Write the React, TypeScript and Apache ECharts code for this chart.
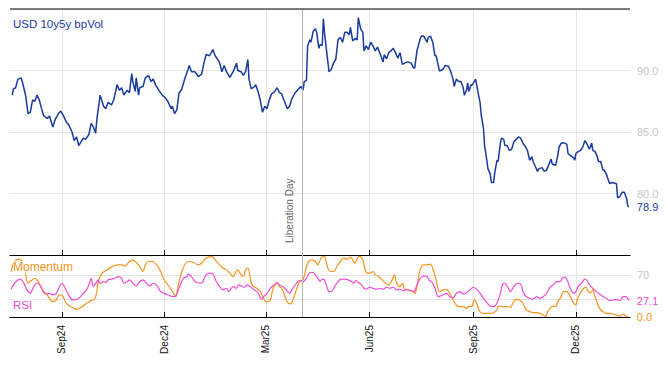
import React, { useEffect, useRef } from 'react';
import * as echarts from 'echarts';

const START_DATE = '2024-07-17';
const END_DATE = '2026-01-18';
const EVENT_DATE = '2025-04-02';
const EVENT_LABEL = 'Liberation Day';
const TITLE = 'USD 10y5y bpVol';
const MOM_NAME = 'Momentum';
const RSI_NAME = 'RSI';

// day index from START_DATE, value
const volDays = [2,3,5,7,10,12,14,16,18,20,22,24,26,28,30,33,35,38,40,43,45,47,50,52,55,57,59,61,63,65,67,70,72,74,76,77,80,83,85,87,90,92,95,97,99,101,104,106,108,109,111,112,114,115,118,120,123,125,127,129,132,135,138,140,143,144,146,148,150,152,154,156,158,159,161,164,167,170,172,174,177,180,182,185,186,188,190,192,195,198,201,202,205,207,209,211,212,214,217,218,220,222,224,226,228,230,232,234,237,239,241,243,246,248,250,253,256,258,260,261,263,264,266,267,269,271,272,274,275,277,278,279,281,283,285,287,289,291,293,295,297,299,301,302,304,306,308,309,311,313,314,316,318,320,322,324,326,328,331,332,334,336,338,340,342,344,346,348,350,353,356,358,359,361,364,365,367,370,371,373,375,377,378,381,384,386,389,391,393,394,396,398,400,402,403,405,406,407,409,410,413,414,415,417,418,420,421,423,424,426,427,429,430,432,433,435,436,438,439,441,443,445,447,449,451,453,455,458,459,461,463,464,466,468,469,472,474,476,478,480,481,484,486,487,489,492,494,495,497,500,501,502,504,506,508,510,512,514,516,517,519,521,522,524,526,527,529,530,532,534,536,538,539,541,543,545,547,548,549];
const volValues = [88.0,88.5,88.6,89.3,89.4,88.7,87.9,86.5,86.6,87.6,87.5,88.0,87.6,86.9,86.3,86.1,86.3,85.4,86.0,86.5,86.7,86.4,85.8,85.6,85.0,84.3,84.6,83.9,84.2,84.5,84.4,84.8,85.7,85.4,84.9,86.0,88.0,87.1,86.9,87.4,87.2,87.6,88.85,88.4,88.6,88.0,88.4,88.2,89.75,89.1,88.3,89.4,88.0,88.6,88.7,89.4,89.6,89.1,89.3,88.85,88.4,88.0,87.75,87.5,86.9,87.1,86.5,86.8,88.2,88.4,89.0,89.6,90.1,90.4,89.9,89.9,89.5,89.7,90.6,91.3,91.2,91.7,91.2,90.8,90.6,89.9,90.4,89.9,89.45,89.9,90.6,90.0,89.9,89.6,89.9,90.9,89.3,88.5,88.7,88.85,88.3,87.6,86.6,87.1,86.9,87.6,88.1,88.2,88.6,88.2,88.1,87.6,86.9,87.1,87.7,88.2,88.5,88.7,88.4,89.1,89.2,92.0,92.5,92.3,93.2,93.4,93.1,91.8,92.1,92.05,94.2,93.1,91.45,89.9,90.1,90.6,90.9,92.5,92.7,92.3,93.1,93.1,92.9,93.5,92.4,92.6,92.5,94.3,93.4,93.1,91.6,92.0,91.7,92.3,92.0,91.6,91.9,91.45,90.7,91.3,90.95,91.45,91.6,91.8,91.45,91.0,91.45,90.5,90.6,90.7,90.6,90.2,90.2,91.6,92.6,92.8,92.8,92.3,92.7,92.8,92.3,91.2,91.2,89.95,90.1,90.4,90.35,89.9,89.3,88.7,89.3,89.1,89.1,88.6,88.0,88.4,89.0,88.3,88.85,88.8,89.3,88.85,88.3,87.4,86.4,85.3,83.9,82.7,82.0,81.6,80.9,80.9,81.7,82.7,82.6,84.1,84.5,84.4,83.9,83.9,83.5,83.6,84.2,84.4,84.6,84.5,84.1,83.7,83.5,82.7,83.0,82.6,82.2,81.8,82.0,82.1,81.8,81.9,82.35,82.8,82.4,82.3,83.1,83.75,84.1,84.1,84.0,83.25,83.1,82.9,82.7,83.25,83.4,83.5,83.75,84.3,84.0,83.6,84.1,83.5,83.4,83.0,82.6,82.6,81.9,81.9,81.6,81.3,80.8,80.9,80.85,80.8,79.65,79.75,80.1,80.1,79.6,79.0,78.9];

const momDays = [1,4,9,13,16,19,22,25,27,30,32,35,38,41,44,47,50,55,59,64,68,72,75,77,78,81,86,90,95,99,102,106,109,112,115,118,120,123,127,130,133,136,139,142,145,147,149,152,155,158,163,167,170,174,179,182,185,189,192,195,198,200,202,205,207,209,211,214,216,219,222,225,227,229,231,233,235,237,239,241,243,245,247,249,251,254,257,260,263,265,268,271,273,276,279,280,282,284,287,290,293,296,299,302,304,306,308,310,313,315,317,319,322,324,327,330,333,336,339,341,343,346,348,350,353,356,359,361,363,365,367,370,373,375,378,381,384,387,390,393,396,399,402,405,407,410,411,412,414,416,418,421,426,429,432,433,435,438,441,444,446,449,452,455,458,461,464,467,470,473,475,477,479,482,484,486,489,491,494,497,500,502,503,506,509,511,513,515,517,519,521,523,526,529,532,535,538,541,544,546,549];
const momValues = [75.6,92.2,96.1,78.3,56.1,60.6,64.4,58.9,51.7,42.2,39.4,31.1,25.6,28.3,36.7,33.9,22.8,16.1,12.8,17.2,22.8,27.2,29.4,42.2,56.1,71.7,78.3,82.8,86.7,86.7,85,92.2,95,90.6,83.9,75.6,86.7,92.2,92.2,86.7,78.3,64.4,56.1,47.8,39.4,33.9,50.6,72.8,86.7,92.2,90.6,86.7,89.4,97.8,100.6,95,88.3,81.1,78.3,72.8,67.2,72.8,78.3,70,67.2,78.3,81.1,56.1,50.6,47.8,42.2,31.1,25.6,25.6,28.3,45,53.3,56.1,50.6,47.8,39.4,28.3,22.8,21.7,28.3,45,58.9,61.7,83.9,92.2,95,92.2,86.7,97.8,100.6,95,81.1,75.6,75.6,83.9,92.2,97.8,96.1,99.4,95,89.4,97.8,100.6,95,78.3,72.8,72.8,75.6,70,67.2,61.7,56.1,53.3,61.7,70,56.1,50.6,56.1,46.1,45,43.9,39.4,50.6,72.8,83.9,86.7,86.7,87.8,81.1,61.7,42,45,46.1,39.4,28.3,20,17.2,17.2,14.4,17.2,18.3,25.6,28.3,22.8,11.7,7.2,6.1,6.1,7.2,11.7,17.2,18.3,17.2,17.2,16.1,22.8,29.4,28.3,22.8,11.7,8.9,7.2,7.2,6.1,3.3,0.6,8.9,14.4,18.3,17.2,25.6,33.9,42.2,42.2,33.9,22.8,20,28.3,39.4,47.8,49.4,42.2,40.6,45,33.9,22.8,14.4,8.9,6.1,6.1,5,3.3,1.7,5,1.7,0];

const rsiDays = [1,4,9,12,15,18,21,24,27,30,33,35,38,41,44,46,49,52,56,61,65,68,71,72,74,77,78,80,83,85,87,90,93,96,99,101,104,106,109,112,115,118,121,124,127,130,133,136,139,142,145,147,151,154,157,158,161,164,169,171,174,177,180,183,186,189,192,194,198,201,203,206,208,210,213,216,219,221,223,225,228,231,234,237,239,243,245,248,250,253,257,260,263,266,269,271,274,275,277,279,281,283,285,288,291,294,297,300,303,305,307,309,312,314,316,319,322,325,328,331,334,337,340,343,346,349,352,355,358,361,364,367,370,372,374,377,380,384,387,390,393,396,399,402,405,408,411,414,417,420,423,426,429,432,435,437,439,441,442,444,446,449,452,454,455,458,461,464,467,470,473,476,479,482,485,488,490,492,494,497,500,502,504,507,510,512,514,517,520,523,526,529,532,535,538,541,544,546,549];
const rsiValues = [46.1,56.1,62.8,57.2,45,39.4,50.6,56.1,51.7,40.6,38.3,39.4,36.7,39.4,50.6,56.1,47.8,36.7,28.3,31.1,39.4,45,58.9,64.4,50.6,58.9,61.7,56.1,58.9,57.2,61.7,62.8,64.4,67.2,64.4,56.1,58.9,61.7,56.1,51.7,58.9,61.7,56.1,51.7,56.1,53.3,43.9,39.4,37.8,35,33.9,35,53.3,64.4,67.2,71.7,67.2,58.9,56.1,58.9,70,72.8,71.7,58.9,50.6,45,47.8,42.2,50.6,47.8,53.3,50.6,49.4,53.3,50.6,46.1,42.2,36.7,29.4,33.9,39.4,47.8,53.3,57.2,53.3,49.4,45,39.4,45,53.3,60.6,58.9,64.4,73.9,73.9,70,61.7,58.9,62.8,61.7,50.6,42.2,42.2,50.6,58.9,62.8,62.8,61.7,58.9,56.1,60.6,57.2,53.3,47.8,46.1,49.4,47.8,46.1,47.8,46.1,49.4,47.8,49.4,45,46.1,43.9,46.1,43.9,42.2,53.3,64.4,68.3,67.2,60.6,58.9,47.8,33.9,36.7,39.4,33.9,31.1,39.4,42.2,38.3,40.6,45,49.4,46.1,39.4,31.1,23.9,18.3,17.2,22.8,39.4,54.4,56.1,51.7,47.8,42.2,47.8,55,56.1,50.6,42.2,33.9,31.1,29.4,33.9,31.1,33.9,39.4,49.4,53.3,58.9,58.9,64.4,66.1,62.8,47.8,39.4,42.2,50.6,56.1,62.8,60.6,53.3,47.8,42.2,38.3,33.9,31.1,27.2,28.3,29.4,27.2,33.9,33.9,27.1];

const volAxis = { min: 75, max: 95, step: 5 };
const oscAxis = { min: 0, max: 103, step: 10 };
const oscGridLevels = [30, 70];
const oscLabelLevels = [70];
const QUARTER_MONTHS = ['03', '06', '09', '12'];
const MONTHS = ['Jan','Feb','Mar','Apr','May','Jun','Jul','Aug','Sep','Oct','Nov','Dec'];

const W = 668;
const H = 366;
const G_LEFT = 10;
const G_RIGHT = 38;
const G_TOP = 9;
const G_TOP_H = 246;
const G_BOT_H = 62;

const COL_VOL = '#1a3a9e';
const COL_MOM = '#f7931e';
const COL_RSI = '#f24bd6';
const COL_GRID = '#e6e6e6';
const COL_AXISLBL = '#c8c8c8';
const FONT = '"Liberation Sans", Arial, sans-serif';

function buildDays(start: string, end: string): string[] {
  const out: string[] = [];
  const d = new Date(start + 'T00:00:00Z');
  const e = new Date(end + 'T00:00:00Z');
  while (d <= e) {
    out.push(d.toISOString().slice(0, 10));
    d.setUTCDate(d.getUTCDate() + 1);
  }
  return out;
}

const isQuarter = (_i: number, v: string) =>
  typeof v === 'string' && v.slice(8, 10) === '01' && QUARTER_MONTHS.includes(v.slice(5, 7));

const pair = (days: number[], vals: number[]) => days.map((d, i) => [d, vals[i]]);

export default function App() {
  const ref = useRef<HTMLDivElement>(null);
  useEffect(() => {
    if (!ref.current) return;
    const chart = echarts.init(ref.current, undefined, { renderer: 'svg' });
    const cats = buildDays(START_DATE, END_DATE);
    const oscTicks: number[] = [];
    for (let t = oscAxis.min; t <= oscAxis.max; t += oscAxis.step) oscTicks.push(t);
    const oscSplitColors = oscTicks.map((t) => (oscGridLevels.includes(t) ? COL_GRID : 'rgba(0,0,0,0)'));

    const baseX = {
      type: 'category' as const,
      data: cats,
      boundaryGap: false,
    };

    chart.setOption({
      animation: false,
      textStyle: { fontFamily: FONT },
      grid: [
        { left: G_LEFT, right: G_RIGHT, top: G_TOP, height: G_TOP_H, containLabel: false },
        { left: G_LEFT, right: G_RIGHT, top: G_TOP + G_TOP_H, height: G_BOT_H, containLabel: false },
      ],
      xAxis: [
        {
          ...baseX,
          gridIndex: 0,
          position: 'bottom',
          axisLine: { show: true, onZero: false, lineStyle: { color: '#000', width: 1.2 } },
          axisTick: { show: true, inside: true, length: 5, interval: isQuarter, lineStyle: { color: '#000' } },
          axisLabel: { show: false },
          splitLine: { show: true, interval: isQuarter, lineStyle: { color: COL_GRID, width: 1 } },
        },
        {
          ...baseX,
          gridIndex: 1,
          position: 'bottom',
          axisLine: { show: true, onZero: false, lineStyle: { color: '#000', width: 1.2 } },
          axisTick: { show: true, inside: true, length: 5, interval: isQuarter, lineStyle: { color: '#000' } },
          axisLabel: {
            show: true,
            interval: isQuarter,
            rotate: 90,
            margin: 8,
            color: '#111',
            fontSize: 10,
            fontFamily: FONT,
            formatter: (v: string) => MONTHS[parseInt(v.slice(5, 7), 10) - 1] + v.slice(2, 4),
          },
          splitLine: { show: true, interval: isQuarter, lineStyle: { color: COL_GRID, width: 1 } },
        },
      ],
      yAxis: [
        {
          type: 'value',
          gridIndex: 0,
          position: 'right',
          min: volAxis.min,
          max: volAxis.max,
          interval: volAxis.step,
          axisLine: { show: false },
          axisTick: { show: false },
          axisLabel: {
            color: COL_AXISLBL,
            fontSize: 11,
            margin: 7,
            showMinLabel: false,
            showMaxLabel: false,
            formatter: (v: number) => v.toFixed(1),
          },
          splitLine: { show: true, lineStyle: { color: COL_GRID, width: 1 } },
        },
        {
          type: 'value',
          gridIndex: 1,
          position: 'right',
          min: oscAxis.min,
          max: oscAxis.max,
          interval: oscAxis.step,
          axisLine: { show: false },
          axisTick: { show: false },
          axisLabel: {
            color: COL_AXISLBL,
            fontSize: 11,
            margin: 7,
            formatter: (v: number) => (oscLabelLevels.includes(v) ? String(v) : ''),
          },
          splitLine: { show: true, lineStyle: { color: oscSplitColors, width: 1 } },
        },
      ],
      series: [
        {
          name: TITLE,
          type: 'line',
          xAxisIndex: 0,
          yAxisIndex: 0,
          data: pair(volDays, volValues),
          showSymbol: false,
          symbol: 'none',
          lineStyle: { color: COL_VOL, width: 1.5 },
          itemStyle: { color: COL_VOL },
          z: 3,
          endLabel: {
            show: true,
            distance: 8,
            color: COL_VOL,
            fontSize: 11,
            fontFamily: FONT,
            formatter: (p: any) => Number(p.value[1]).toFixed(1),
          },
          markLine: {
            silent: true,
            symbol: ['none', 'none'],
            lineStyle: { color: '#b5b5b5', type: 'solid', width: 1 },
            label: {
              show: true,
              position: 'insideStartTop',
              formatter: EVENT_LABEL,
              color: '#666',
              fontSize: 10,
              fontFamily: FONT,
              distance: [12, 7],
            },
            data: [{ xAxis: EVENT_DATE }],
          },
        },
        {
          name: MOM_NAME,
          type: 'line',
          xAxisIndex: 1,
          yAxisIndex: 1,
          data: pair(momDays, momValues),
          showSymbol: false,
          symbol: 'none',
          smooth: 0.35,
          lineStyle: { color: COL_MOM, width: 1.2 },
          itemStyle: { color: COL_MOM },
          endLabel: {
            show: true,
            distance: 8,
            color: COL_MOM,
            fontSize: 11,
            fontFamily: FONT,
            formatter: (p: any) => Number(p.value[1]).toFixed(1),
          },
        },
        {
          name: RSI_NAME,
          type: 'line',
          xAxisIndex: 1,
          yAxisIndex: 1,
          data: pair(rsiDays, rsiValues),
          showSymbol: false,
          symbol: 'none',
          smooth: 0.35,
          lineStyle: { color: COL_RSI, width: 1.2 },
          itemStyle: { color: COL_RSI },
          endLabel: {
            show: true,
            distance: 8,
            color: COL_RSI,
            fontSize: 11,
            fontFamily: FONT,
            formatter: (p: any) => Number(p.value[1]).toFixed(1),
          },
          markLine: {
            silent: true,
            symbol: ['none', 'none'],
            lineStyle: { color: '#b5b5b5', type: 'solid', width: 1 },
            label: { show: false },
            data: [{ xAxis: EVENT_DATE }],
          },
        },
      ],
      graphic: [
        {
          type: 'line',
          z: 20,
          silent: true,
          shape: { x1: G_LEFT, y1: G_TOP, x2: W - G_RIGHT, y2: G_TOP },
          style: { stroke: '#000', lineWidth: 1.2 },
        },
        {
          type: 'text',
          left: 13,
          top: 18,
          z: 10,
          style: { text: TITLE, fill: COL_VOL, font: `11.5px ${FONT}` },
        },
        {
          type: 'text',
          left: 13,
          top: 261,
          z: 10,
          style: {
            text: MOM_NAME,
            fill: COL_MOM,
            font: `12px ${FONT}`,
            backgroundColor: 'rgba(255,255,255,0.75)',
          },
        },
        {
          type: 'text',
          left: 13,
          top: 299,
          z: 10,
          style: {
            text: RSI_NAME,
            fill: COL_RSI,
            font: `11.5px ${FONT}`,
            backgroundColor: 'rgba(255,255,255,0.75)',
          },
        },
      ],
    });
    return () => chart.dispose();
  }, []);
  return <div ref={ref} style={{ width: W, height: H, position: 'absolute', left: 0, top: 0 }} />;
}
